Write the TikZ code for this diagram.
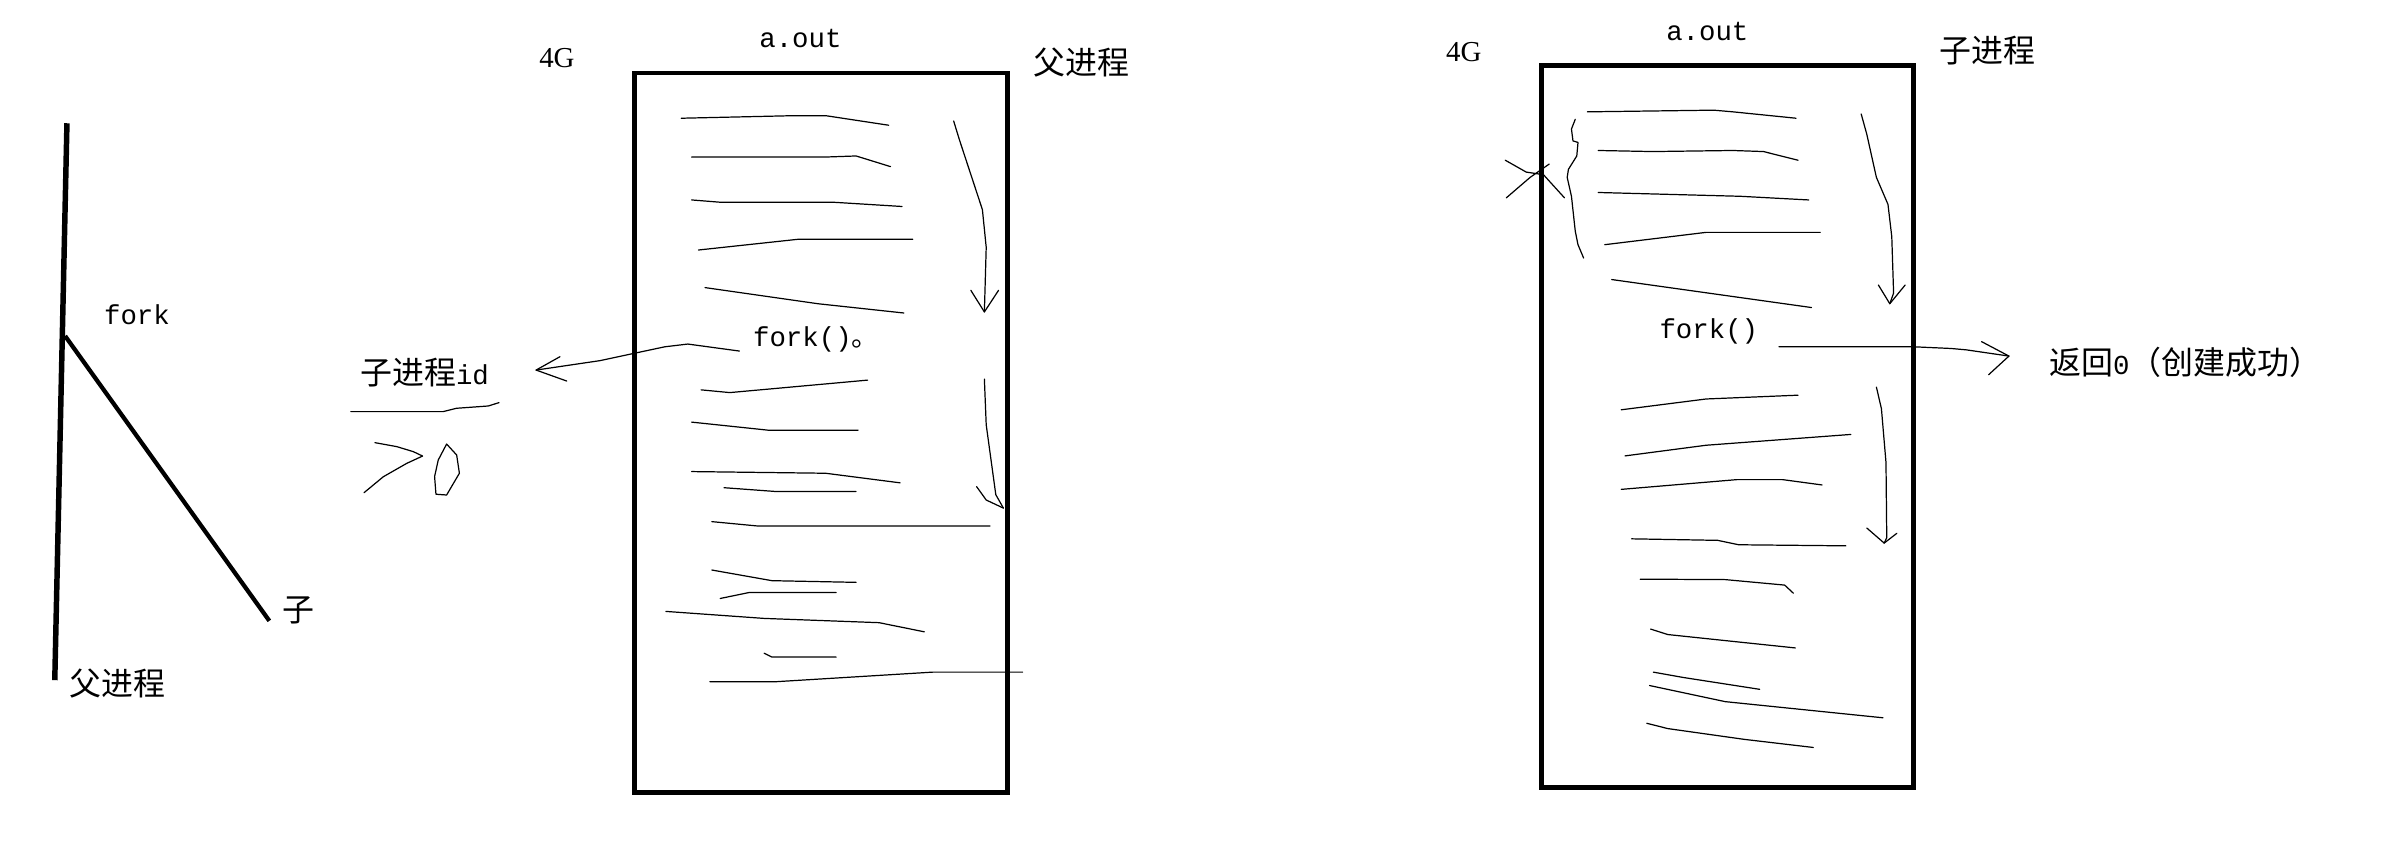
\documentclass[tikz,border=0pt]{standalone}
\usepackage{fontspec}
\newfontfamily\cjk{Noto Sans CJK SC}
\newfontfamily\monofnt{Liberation Mono}
\newfontfamily\seriffnt{Liberation Serif}
\begin{document}
\begin{tikzpicture}[x=1pt,y=-1pt,
  sketch/.style={line width=0.8pt, line join=round, line cap=round},
  frame/.style={draw, line width=3pt, inner sep=0pt, outer sep=0pt},
  cjktext/.style={font=\cjk\fontsize{21}{21}\selectfont, inner sep=0pt},
  monotext/.style={font=\monofnt\fontsize{18}{18}\selectfont, inner sep=0pt},
  label4g/.style={font=\seriffnt\fontsize{19}{19}\selectfont, inner sep=0pt}]
\useasboundingbox (0,0) rectangle (1568,556);

% ---------- left: fork tree ----------
\coordinate (trunkTop) at (44,81);
\coordinate (trunkBot) at (36,447);
\coordinate (forkPt) at (42.8,220.8);
\coordinate (childEnd) at (177,408);
\draw[line width=3.6pt] (trunkTop) -- (trunkBot);
\draw[line width=2.8pt] (forkPt) -- (childEnd);
\node[monotext] (forkLbl) at (90,207) {fork};
\node[cjktext] (ziLbl) at (196,401) {子};
\node[cjktext] (fuLbl) at (77,449) {父进程};

% ---------- child id note ----------
\node[cjktext] (childId) at (279,245) {{\cjk 子进程}{\monofnt\fontsize{18}{18}\selectfont id}};
\draw[sketch] (230.5,270.5) -- (291.3,270.5) -- (300.1,268.3) -- (320.9,266.8) -- (327.9,264.6);
\draw[sketch] (246.4,290.9) -- (260.7,293.5) -- (271.6,296.8) -- (277.7,299.7) -- (267.3,304.5) -- (251.9,313.3) -- (239.2,323.8);
\draw[sketch] (293.5,291.8) -- (300.1,299) -- (301.9,311) -- (293.5,325.3) -- (286.5,324.8) -- (285.6,313.2) -- (288,302.3) -- cycle;

% ---------- left box (parent) ----------
\node[frame, minimum width=245pt, minimum height=473pt] (boxL) at (539.5,284.4) {};
\node[label4g] (gL) at (366,38) {4G};
\node[monotext] (aoutL) at (526,25) {a.out};
\node[cjktext] (parentLbl) at (711,41) {父进程};
\node[monotext, anchor=west] (forkL) at (494.7,223) {fork(){\cjk 。}};

\draw[sketch] (447.7,77.7) -- (522.4,76) -- (542.5,76) -- (584,82.3);
\draw[sketch] (454.5,103.2) -- (487.2,103.2) -- (542.5,103.2) -- (562.6,102.5) -- (585.2,109.5);
\draw[sketch] (454.5,131.4) -- (473.3,132.9) -- (547.5,132.9) -- (592.8,135.7);
\draw[sketch] (459,164.3) -- (524.9,157.2) -- (599.8,157.2);
\draw[sketch] (463.3,189) -- (537.5,199.6) -- (594,205.7);
\draw[sketch] (460.7,256.2) -- (479.6,258) -- (570.2,249.8);
\draw[sketch] (454.5,277.4) -- (504.8,282.7) -- (563.9,282.7);
\draw[sketch] (454.5,309.9) -- (542.5,311) -- (591.5,317.3);
\draw[sketch] (475.8,320.5) -- (509.8,323) -- (562.6,323);
\draw[sketch] (467.8,342.8) -- (497.2,345.6) -- (650.6,345.6);
\draw[sketch] (467.8,374.6) -- (507.3,381.6) -- (562.6,382.7);
\draw[sketch] (473.3,393.3) -- (492.2,389.4) -- (549.5,389.4);
\draw[sketch] (437.6,401.8) -- (502.2,406.4) -- (577.7,409.2) -- (607.4,415.2);
\draw[sketch] (502.2,429.3) -- (507.3,431.8) -- (549.5,431.8);
\draw[sketch] (466.5,448) -- (509.8,448) -- (612.9,441.7) -- (672,441.7);

% flow arrows in left box
\coordinate (flowLAtip) at (646.9,205);
\draw[sketch] (626.7,79.5) -- (630.5,91.9) -- (645.6,137.8) -- (648.1,162.5) -- (flowLAtip);
\draw[sketch] (638,190.8) -- (flowLAtip) -- (656.2,190.8);
\coordinate (flowLBtip) at (659.4,333.9);
\draw[sketch] (646.9,249.1) -- (648.1,279.2) -- (654.4,325.1) -- (flowLBtip);
\draw[sketch] (641.8,319.8) -- (648.1,328.6) -- (flowLBtip);

% return arrow: fork() -> child id
\coordinate (retLtip) at (352.3,243.2);
\draw[sketch] (forkL.west) ++(-8.8,7.7) -- (452,226.1) -- (436.9,227.9) -- (416.7,232.2) -- (394.3,237) -- (retLtip);
\draw[sketch] (368,234.4) -- (retLtip) -- (372.4,250.4);

% ---------- right box (child) ----------
\node[frame, minimum width=244.5pt, minimum height=474.7pt] (boxR) at (1135.25,280.35) {};
\node[label4g] (gR) at (962,34) {4G};
\node[monotext] (aoutR) at (1122,21) {a.out};
\node[cjktext] (childLbl) at (1306,33) {子进程};
\node[monotext] (forkR) at (1123,218) {fork()};

\draw[sketch] (1043.2,73.5) -- (1126.2,72.4) -- (1138.8,73.5) -- (1180.3,77.7);
\draw[sketch] (1050.3,98.9) -- (1086,99.6) -- (1138.8,98.9) -- (1158.9,99.6) -- (1181.6,105.3);
\draw[sketch] (1050.3,126.5) -- (1143.8,129) -- (1188.6,131.4);
\draw[sketch] (1054.6,160.8) -- (1121.2,152.7) -- (1196.2,152.7);
\draw[sketch] (1059.1,183.7) -- (1190.4,202.1);
\draw[sketch] (1065.4,269.3) -- (1121.2,262.2) -- (1181.6,259.7);
\draw[sketch] (1067.9,299.6) -- (1121.2,292.6) -- (1216.3,285.5);
\draw[sketch] (1065.4,321.6) -- (1141.3,315.2) -- (1171.5,315.2) -- (1197.4,318.7);
\draw[sketch] (1072.2,354.1) -- (1128.8,355.1) -- (1142.6,358) -- (1213,358.7);
\draw[sketch] (1077.9,380.6) -- (1133.8,380.9) -- (1172.8,384.5) -- (1178.5,389.8);
\draw[sketch] (1084.7,413.4) -- (1096,417) -- (1146.4,422.3) -- (1179.8,425.8);
\draw[sketch] (1086.5,441.7) -- (1106.1,445.2) -- (1156.4,453);
\draw[sketch] (1084,450.5) -- (1133.8,461.1) -- (1237.4,471.7);
\draw[sketch] (1082.2,475.3) -- (1096,478.8) -- (1146.4,485.9) -- (1191.6,491.2);

% brace and cross at left of right box
\draw[sketch] (1035.2,78.4) -- (1032.7,84.8) -- (1033.7,92.6) -- (1037,93.6) -- (1036.2,102.5) -- (1030.7,111.3) -- (1029.9,116.6) -- (1032.7,129) -- (1035.2,151.9) -- (1037,160.8) -- (1040.7,169.6);
\draw[sketch] (989.2,105.3) -- (1003,113.1) -- (1014.3,114.8) -- (1028.1,130);
\draw[sketch] (989.9,130) -- (1005.5,116.6) -- (1018.1,107.8);

% flow arrows in right box
\coordinate (flowRAtip) at (1241.9,199.6);
\draw[sketch] (1223.1,74.9) -- (1226.8,88.3) -- (1233.1,116.6) -- (1240.7,134.3) -- (1243.2,155.5) -- (1244.4,192.6) -- (flowRAtip);
\draw[sketch] (1234.4,187.3) -- (flowRAtip) -- (1252,187.3);
\coordinate (flowRBtip) at (1238.2,356.9);
\draw[sketch] (1233.1,254.4) -- (1236.4,268.6) -- (1239.4,303.9) -- (1239.9,353.4) -- (flowRBtip);
\draw[sketch] (1226.8,347) -- (flowRBtip) -- (1246.5,350.5);

% return arrow: fork() -> 返回0
\node[cjktext] (retR) at (1436,238) {返回{\monofnt\fontsize{18}{18}\selectfont 0}（创建成功）};
\coordinate (retRtip) at (1320.2,234);
\draw[sketch] (forkR.east) ++(13.5,9.9) -- (1257.5,227.9) -- (1282,229) -- (1292.1,229.9) -- (retRtip);
\draw[sketch] (1302.2,224.5) -- (retRtip) -- (1306.8,246.3);
\end{tikzpicture}
\end{document}
